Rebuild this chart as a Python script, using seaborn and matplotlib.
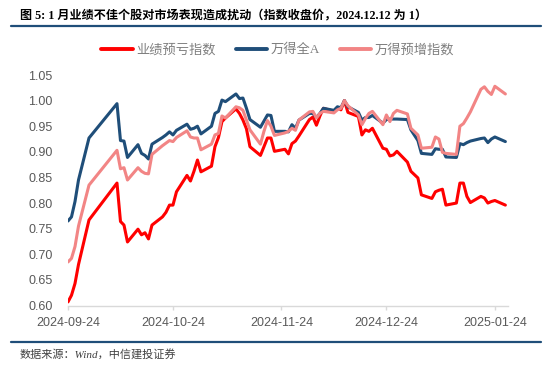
import matplotlib
matplotlib.use("Agg")
import numpy as np
import pandas as pd
import seaborn as sns
import matplotlib.pyplot as plt
import matplotlib.dates as mdates
from matplotlib.lines import Line2D

# ---------------- data ----------------
dates = [
    "2024-09-24", "2024-09-25", "2024-09-26", "2024-09-27", "2024-09-30",
    "2024-10-08", "2024-10-09", "2024-10-10", "2024-10-11",
    "2024-10-14", "2024-10-15", "2024-10-16", "2024-10-17", "2024-10-18",
    "2024-10-21", "2024-10-22", "2024-10-23", "2024-10-24", "2024-10-25",
    "2024-10-28", "2024-10-29", "2024-10-30", "2024-10-31", "2024-11-01",
    "2024-11-04", "2024-11-05", "2024-11-06", "2024-11-07", "2024-11-08",
    "2024-11-11", "2024-11-12", "2024-11-13", "2024-11-14", "2024-11-15",
    "2024-11-18", "2024-11-19", "2024-11-20", "2024-11-21", "2024-11-22",
    "2024-11-25", "2024-11-26", "2024-11-27", "2024-11-28", "2024-11-29",
    "2024-12-02", "2024-12-03", "2024-12-04", "2024-12-05", "2024-12-06",
    "2024-12-09", "2024-12-10", "2024-12-11", "2024-12-12", "2024-12-13",
    "2024-12-16", "2024-12-17", "2024-12-18", "2024-12-19", "2024-12-20",
    "2024-12-23", "2024-12-24", "2024-12-25", "2024-12-26", "2024-12-27",
    "2024-12-30", "2024-12-31", "2025-01-02", "2025-01-03",
    "2025-01-06", "2025-01-07", "2025-01-08", "2025-01-09", "2025-01-10",
    "2025-01-13", "2025-01-14", "2025-01-15", "2025-01-16", "2025-01-17",
    "2025-01-20", "2025-01-21", "2025-01-22", "2025-01-23", "2025-01-24",
    "2025-01-27",
]

loss_warning = [  # 业绩预亏指数
    0.607, 0.620, 0.643, 0.680, 0.767,
    0.839, 0.764, 0.757, 0.724,
    0.749, 0.738, 0.742, 0.730, 0.757,
    0.773, 0.782, 0.796, 0.796, 0.822,
    0.854, 0.843, 0.862, 0.884, 0.861,
    0.872, 0.910, 0.928, 0.959, 0.966,
    0.984, 0.975, 0.962, 0.945, 0.910,
    0.893, 0.910, 0.927, 0.927, 0.901,
    0.905, 0.896, 0.916, 0.921, 0.931,
    0.963, 0.968, 0.952, 0.970, 0.985,
    0.979, 0.986, 0.982, 1.000, 0.977,
    0.969, 0.933, 0.943, 0.940, 0.946,
    0.907, 0.905, 0.892, 0.894, 0.901,
    0.880, 0.862, 0.849, 0.816,
    0.809, 0.822, 0.825, 0.827, 0.796,
    0.800, 0.839, 0.839, 0.813, 0.801,
    0.813, 0.810, 0.800, 0.803, 0.805,
    0.796,
]

wind_all_a = [  # 万得全A
    0.765, 0.773, 0.803, 0.845, 0.927,
    0.994, 0.922, 0.921, 0.889,
    0.914, 0.897, 0.893, 0.886, 0.915,
    0.928, 0.933, 0.939, 0.933, 0.942,
    0.954, 0.944, 0.946, 0.950, 0.935,
    0.950, 0.975, 0.979, 1.001, 0.998,
    1.013, 1.004, 1.005, 0.985, 0.963,
    0.948, 0.960, 0.972, 0.971, 0.940,
    0.940, 0.939, 0.953, 0.946, 0.962,
    0.975, 0.975, 0.967, 0.975, 0.985,
    0.981, 0.988, 0.986, 1.000, 0.988,
    0.977, 0.962, 0.967, 0.967, 0.971,
    0.956, 0.963, 0.964, 0.964, 0.964,
    0.963, 0.943, 0.922, 0.897,
    0.895, 0.906, 0.905, 0.905, 0.890,
    0.889, 0.916, 0.914, 0.918, 0.921,
    0.926, 0.927, 0.918, 0.925, 0.929,
    0.920,
]

pre_increase = [  # 万得预增指数
    0.685, 0.692, 0.715, 0.755, 0.835,
    0.903, 0.867, 0.869, 0.845,
    0.869, 0.862, 0.858, 0.857, 0.895,
    0.912, 0.917, 0.922, 0.920, 0.928,
    0.941, 0.929, 0.927, 0.927, 0.904,
    0.915, 0.933, 0.936, 0.970, 0.966,
    0.988, 0.986, 0.981, 0.962, 0.943,
    0.915, 0.940, 0.961, 0.950, 0.932,
    0.937, 0.940, 0.946, 0.942, 0.962,
    0.978, 0.979, 0.966, 0.975, 0.979,
    0.976, 0.982, 0.985, 1.000, 0.990,
    0.972, 0.953, 0.965, 0.975, 0.979,
    0.953, 0.972, 0.959, 0.975, 0.981,
    0.974, 0.946, 0.933, 0.907,
    0.909, 0.929, 0.925, 0.899, 0.897,
    0.895, 0.950, 0.955, 0.966, 0.978,
    1.022, 1.027, 1.018, 1.012, 1.028,
    1.013,
]

series_names = ["业绩预亏指数", "万得全A", "万得预增指数"]
colors = ["#FF0000", "#1F4E79", "#F28585"]

x_ticks = ["2024-09-24", "2024-10-24", "2024-11-24", "2024-12-24", "2025-01-24"]
y_ticks = [0.60, 0.65, 0.70, 0.75, 0.80, 0.85, 0.90, 0.95, 1.00, 1.05]

title = "图 5: 1 月业绩不佳个股对市场表现造成扰动（指数收盘价，2024.12.12 为 1）"
source = "数据来源：Wind，中信建投证券"

# ---------------- build table ----------------
d = pd.to_datetime(dates)
df = pd.concat([
    pd.DataFrame({"date": d, "value": vals, "series": name})
    for name, vals in zip(series_names, [loss_warning, wind_all_a, pre_increase])
], ignore_index=True)

# ---------------- style ----------------
sns.set_theme(style="white")
plt.rcParams["font.family"] = ["Liberation Sans", "Noto Sans CJK SC", "DejaVu Sans"]
serif_cjk = ["Liberation Serif", "Noto Sans CJK SC", "DejaVu Sans"]

fig = plt.figure(figsize=(5.5, 3.7), dpi=100)
ax = fig.add_axes([68 / 550, 1 - 305.5 / 370, 440 / 550, 230.5 / 370])

sns.lineplot(data=df, x="date", y="value", hue="series", hue_order=series_names,
             palette=dict(zip(series_names, colors)), linewidth=2.2, ax=ax)

ax.set_xlim(pd.Timestamp("2024-09-24"), pd.Timestamp("2025-01-27") + pd.Timedelta(hours=18))
ax.set_ylim(0.60, 1.05)
ax.set_xticks(pd.to_datetime(x_ticks))
ax.xaxis.set_major_formatter(mdates.DateFormatter("%Y-%m-%d"))
ax.set_yticks(y_ticks)
ax.set_yticklabels([f"{v:.2f}" for v in y_ticks])
ax.set_xlabel("")
ax.set_ylabel("")

for s in ["left", "right", "top"]:
    ax.spines[s].set_visible(False)
ax.spines["bottom"].set_color("#D9D9D9")
ax.spines["bottom"].set_linewidth(1.0)
ax.tick_params(axis="x", colors="#595959", labelsize=9, length=3, width=1,
               color="#D9D9D9", pad=5, bottom=True, direction="out")
ax.tick_params(axis="y", colors="#595959", labelsize=9, length=0, pad=11)
for lab in ax.get_xticklabels():
    lab.set_color("#595959")
for lab in ax.get_yticklabels():
    lab.set_color("#595959")

sns.move_legend(ax, "center", bbox_to_anchor=(0.505, 1 - 50 / 370),
                bbox_transform=fig.transFigure, ncol=3, frameon=False, title=None,
                handlelength=2.4, handletextpad=0.25, columnspacing=1.5,
                prop={"family": serif_cjk, "size": 9.5})
leg = ax.get_legend()
for t in leg.get_texts():
    t.set_color("#7F7F7F")
for h in leg.get_lines():
    h.set_linewidth(2.8)

# ---------------- header / footer ----------------
fig.text(20 / 550, 1 - 15 / 370, title, fontsize=8.7, fontweight="bold",
         family=serif_cjk, color="#000000", va="center", ha="left")
fig.add_artist(Line2D([11 / 550, 541 / 550], [1 - 26 / 370] * 2,
                      transform=fig.transFigure, color="#1F4E79", lw=1.6))
fig.add_artist(Line2D([11 / 550, 541 / 550], [1 - 341.5 / 370] * 2,
                      transform=fig.transFigure, color="#1F4E79", lw=1.6))
fig.text(20 / 550, 1 - 355 / 370, source, fontsize=8, style="italic",
         family=serif_cjk, color="#404040", va="center", ha="left")

fig.savefig("out.png", dpi=100)
